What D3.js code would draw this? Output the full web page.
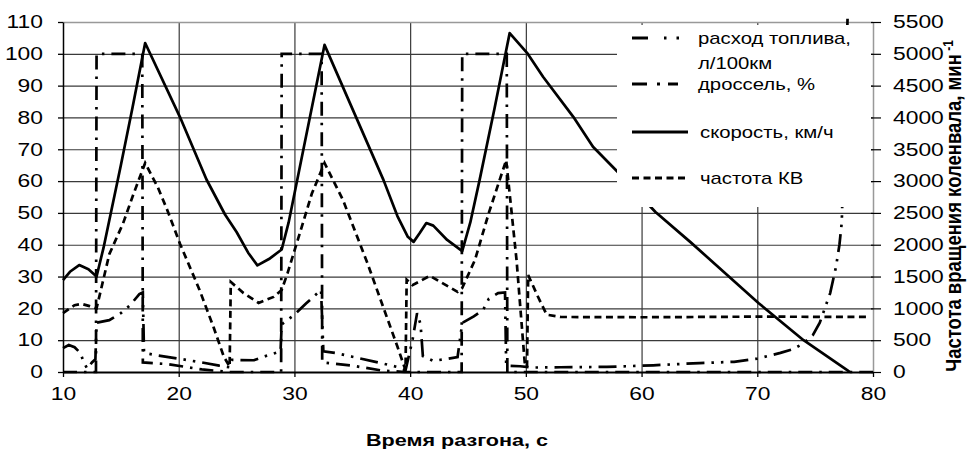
<!DOCTYPE html>
<html><head><meta charset="utf-8">
<script src="https://cdn.jsdelivr.net/npm/d3@7"></script>
<style>
html,body{margin:0;padding:0;background:#fff;}
svg{display:block;font-family:"Liberation Sans",Arial,sans-serif;}
</style></head>
<body><svg id="c" width="968" height="451"></svg>
<script>
// ---- data ----
const xTicks = [10,20,30,40,50,60,70,80];
const leftTicks = [0,10,20,30,40,50,60,70,80,90,100,110];
const rightTicks = [0,500,1000,1500,2000,2500,3000,3500,4000,4500,5000,5500];

// time (s), value
const fuel = [[10,7.5],[10.5,8.5],[11,7.8],[11.5,6],[11.8,3],[12.1,1],[12.5,3],[12.8,4],[12.9,15.5],[14,16.3],[15,18.5],[15.8,21],[16.6,24.5],[16.9,25],[17,6],[18,5.3],[20,4.2],[22,3],[23.5,2],[24.4,1.5],[24.6,3.8],[26.5,3.7],[27.5,5],[28.8,6.5],[28.9,15],[30,18],[31,21.5],[32.3,25.8],[32.5,6.5],[33.5,6],[35,4.8],[37,3.2],[39,1.5],[39.6,0.5],[40.2,10],[40.6,18.5],[40.9,15],[41.1,5],[42,3.5],[43,4],[44.1,4.7],[44.5,15.4],[45.5,17.5],[46.3,19.5],[46.8,23],[47.6,24.8],[48.2,25],[48.3,2],[49.5,1.8],[50.5,1.4],[53,1.5],[57,1.6],[61,2.1],[65,2.8],[68,3.2],[70,4.2],[72,6],[73.1,7.2],[74,9],[74.8,11.6],[75.4,15.5],[76.3,24.8],[76.8,33],[77.1,40],[77.3,47],[77.8,111]];
const throttle = [[10,0],[12.85,0],[12.9,100],[16.85,100],[16.9,3],[19,2.5],[22,0.8],[24.4,0],[28.85,0],[28.9,100],[32.35,100],[32.4,3],[35,2],[37.5,0.5],[39.5,0],[44.45,0],[44.5,100],[48.35,100],[48.4,0],[80,0]];
const speed = [[10,28.9],[10.6,31.5],[11.4,33.6],[12.2,32.3],[12.9,30],[13.5,39],[15,65],[16,83],[17.1,103.4],[20.1,80.2],[22.4,60.5],[24,49.5],[25,44],[26,37.5],[26.8,33.5],[27.8,35.5],[28.9,38.5],[29.5,47],[31,74],[32.6,102.8],[37.7,60.3],[38.9,49],[39.8,42.5],[40.3,40.9],[40.8,43.5],[41.4,46.8],[42,46],[43.2,41.5],[44.5,38],[45.2,47],[46,60.3],[47.3,83],[48.6,106.5],[50.1,100.3],[51.5,92.7],[54.1,80.2],[55.8,70.8],[57.9,63],[61.2,50.3],[64.2,40.9],[70.1,21.7],[74,10],[77.8,0.5],[78,0]];
const rpm = [[10,925],[11,1050],[11.6,1070],[12.3,1035],[12.9,1000],[14,1850],[15.2,2340],[16.1,2800],[17.1,3285],[18.2,2900],[19,2550],[20.1,2020],[21.8,1290],[23,710],[23.9,240],[24.4,85],[24.5,1415],[25.6,1240],[26.9,1085],[28.2,1180],[28.9,1290],[29.4,1550],[30.5,2200],[31.5,2800],[32.6,3285],[34.2,2700],[36.3,1715],[38.9,400],[39.6,30],[39.7,1450],[40.2,1365],[41.7,1510],[44.1,1260],[44.5,1320],[45.6,1760],[46.8,2500],[48.3,3330],[49.2,1750],[49.9,150],[50.1,75],[50.2,1525],[51,1200],[51.8,900],[53,865],[60,860],[70,870],[79.5,865]];

const legendLabels = [["расход топлива,","л/100км"],["дроссель, %"],["скорость, км/ч"],["частота КВ"]];
const xTitle = "Время разгона, с";
const yRTitle = "Частота вращения коленвала, мин";

// ---- drawing ----
const SX = 1.27; // horizontal text stretch of the original
const svg = d3.select("#c");
const x = d3.scaleLinear().domain([10,80]).range([63,873]);
const yL = d3.scaleLinear().domain([0,110]).range([372,22]);
const yR = d3.scaleLinear().domain([0,5500]).range([372,22]);

// gridlines
const g = svg.append("g");
g.selectAll(".hg").data(leftTicks.filter(d=>d>0&&d<110)).join("line")
  .attr("x1",x(10)).attr("x2",x(80)).attr("y1",d=>yL(d)+0.5).attr("y2",d=>yL(d)+0.5)
  .attr("stroke","#3a3a3a").attr("stroke-width",1.2);
g.selectAll(".vg").data(xTicks.filter(d=>d>10&&d<80)).join("line")
  .attr("y1",yL(110)).attr("y2",yL(0)).attr("x1",d=>x(d)+0.5).attr("x2",d=>x(d)+0.5)
  .attr("stroke","#3a3a3a").attr("stroke-width",1.2);
// top & right border (grey)
g.append("line").attr("x1",x(10)).attr("x2",x(80)).attr("y1",yL(110)+0.5).attr("y2",yL(110)+0.5).attr("stroke","#999").attr("stroke-width",1.5);
g.append("line").attr("x1",x(80)+0.5).attr("x2",x(80)+0.5).attr("y1",yL(110)).attr("y2",yL(0)).attr("stroke","#999").attr("stroke-width",1.5);

// series
const lineL = d3.line().x(d=>x(d[0])).y(d=>yL(d[1]));
const lineR = d3.line().x(d=>x(d[0])).y(d=>yR(d[1]));
const sw = 2.7;
svg.append("path").attr("d",lineL(throttle)).attr("fill","none").attr("stroke","#000").attr("stroke-width",sw).attr("stroke-dasharray","14,7,2.5,7");
svg.append("path").attr("d",lineL(fuel)).attr("fill","none").attr("stroke","#000").attr("stroke-width",sw).attr("stroke-dasharray","18,7,2.5,7,2.5,7");
svg.append("path").attr("d",lineR(rpm)).attr("fill","none").attr("stroke","#000").attr("stroke-width",sw).attr("stroke-dasharray","7,4.5");
svg.append("path").attr("d",lineL(speed)).attr("fill","none").attr("stroke","#000").attr("stroke-width",sw).attr("stroke-linejoin","round");

// legend box
svg.append("rect").attr("x",617).attr("y",25).attr("width",254).attr("height",182).attr("fill","#fff");
const legY = [38,84,132,178];
const legDash = ["16,16,2.5,10,2.5,100","15,10,3,8,10,100",null,"7,4.5"];
const lg = svg.append("g");
legY.forEach((yy,i)=>{
  const l = lg.append("line").attr("x1",632).attr("x2",688).attr("y1",yy).attr("y2",yy)
    .attr("stroke","#000").attr("stroke-width",2.8);
  if(legDash[i]) l.attr("stroke-dasharray",legDash[i]);
  legendLabels[i].forEach((t,j)=>{
    lg.append("text").attr("transform",`translate(${i==2||i==3?700:698},${yy+j*25}) scale(${SX},1)`)
      .attr("dy","0.35em").attr("font-size",16).attr("fill","#000").text(t);
  });
});

// axes
const left = d3.axisLeft(yL).tickValues(leftTicks).tickSizeInner(5).tickSizeOuter(0).tickPadding(0);
const gl = svg.append("g").attr("transform",`translate(${x(10)},0)`).call(left);
gl.select(".domain").attr("stroke","#000").attr("stroke-width",1.5);
gl.selectAll(".tick line").attr("stroke","#000").attr("stroke-width",1.3);
gl.selectAll(".tick text").attr("x",-20/SX).attr("transform",`scale(${SX},1)`).attr("font-size",18).attr("fill","#000");

const bottom = d3.axisBottom(x).tickValues(xTicks).tickSizeInner(5).tickSizeOuter(0);
const gb = svg.append("g").attr("transform",`translate(0,${yL(0)})`).call(bottom);
gb.select(".domain").attr("stroke","#000").attr("stroke-width",1.8);
gb.selectAll(".tick line").attr("stroke","#000").attr("stroke-width",1.3);
gb.selectAll(".tick text").attr("y",28).attr("dy",0).attr("transform",`scale(${SX},1)`).attr("font-size",18).attr("fill","#000");

const right = d3.axisRight(yR).tickValues(rightTicks).tickFormat(d3.format("d")).tickSizeInner(8).tickSizeOuter(0);
const gr = svg.append("g").attr("transform",`translate(${x(80)},0)`).call(right);
gr.select(".domain").remove();
gr.selectAll(".tick line").attr("x1",-2).attr("stroke","#000").attr("stroke-width",1.2);
gr.selectAll(".tick text").attr("x",20/SX).attr("transform",`scale(${SX},1)`).attr("font-size",18).attr("fill","#000");
svg.selectAll(".tick text").attr("font-family","Liberation Sans, Arial, sans-serif");

// titles
svg.append("text").attr("transform",`translate(457,446) scale(${SX},1)`).attr("text-anchor","middle")
  .attr("font-size",17).attr("font-weight","bold").text(xTitle);
const rt = svg.append("text").attr("transform",`translate(954,206) scale(1.15,1) rotate(-90)`)
  .attr("text-anchor","middle").attr("dy","0.35em").attr("font-size",18.5).attr("font-weight","bold");
rt.append("tspan").text(yRTitle);
rt.append("tspan").attr("font-size",12).attr("dy","-0.6em").text(" -1");
</script></body></html>
